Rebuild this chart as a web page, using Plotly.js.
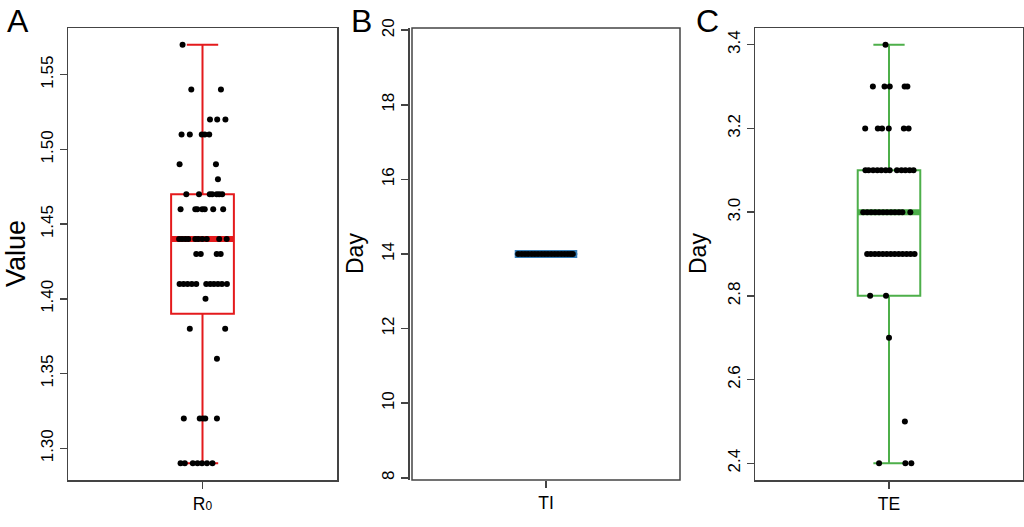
<!DOCTYPE html>
<html>
<head>
<meta charset="utf-8">
<script src="https://cdn.plot.ly/plotly-3.0.1.min.js"></script>
<style>html,body{margin:0;padding:0;background:#fff;}#chart{width:1024px;height:527px;}</style>
</head>
<body>
<div id="chart"></div>
<script>
// ---------- data ----------
const panelLetters = ["A", "B", "C"];
const categories = ["R<span style=\"font-size:12px\">0</span>", "TI", "TE"];
const yTitles = ["Value", "Day", "Day"];

// R0 box statistics
const r0Stats = {q1: 1.39, median: 1.44, q3: 1.47, lower: 1.29, upper: 1.57};
const r0Values = [
  1.57,
  1.54, 1.54,
  1.52, 1.52, 1.52,
  1.51, 1.51, 1.51, 1.51, 1.51,
  1.49, 1.49,
  1.48,
  1.47, 1.47, 1.47, 1.47, 1.47, 1.47, 1.47,
  1.46, 1.46, 1.46, 1.46, 1.46, 1.46, 1.46,
  1.44, 1.44, 1.44, 1.44, 1.44, 1.44, 1.44, 1.44, 1.44, 1.44,
  1.43, 1.43, 1.43, 1.43,
  1.41, 1.41, 1.41, 1.41, 1.41, 1.41, 1.41, 1.41, 1.41, 1.41, 1.41,
  1.40,
  1.38, 1.38,
  1.36,
  1.32, 1.32, 1.32, 1.32, 1.32,
  1.29, 1.29, 1.29, 1.29, 1.29, 1.29, 1.29
];
const r0Jitter = [
  0.920,
  0.955, 1.074,
  1.030, 1.059, 1.092,
  0.916, 0.949, 0.997, 1.009, 1.027,
  0.908, 1.054,
  1.062,
  0.935, 0.986, 1.029, 1.039, 1.057, 1.067, 1.079,
  0.912, 0.971, 0.979, 0.999, 1.009, 1.043, 1.083,
  0.906, 0.918, 0.931, 0.943, 0.971, 0.983, 0.999, 1.017, 1.067, 1.097,
  0.975, 0.993, 1.057, 1.073,
  0.908, 0.924, 0.940, 0.957, 0.975, 1.015, 1.031, 1.046, 1.062, 1.078, 1.098,
  1.012,
  0.949, 1.091,
  1.058,
  0.925, 0.989, 1.001, 1.011, 1.058,
  0.912, 0.929, 0.961, 0.980, 0.998, 1.018, 1.040
];

// TI (all values equal)
const tiStats = {q1: 14, median: 14, q3: 14, lower: 14, upper: 14};
const tiValues = [14, 14, 14, 14, 14, 14, 14, 14, 14, 14, 14, 14, 14, 14, 14, 14, 14, 14];
const tiJitter = [0.888, 0.902, 0.915, 0.928, 0.942, 0.955, 0.968, 0.982, 0.995,
                  1.008, 1.022, 1.035, 1.048, 1.062, 1.075, 1.088, 1.100, 1.108];

// TE
const teStats = {q1: 2.8, median: 3.0, q3: 3.1, lower: 2.4, upper: 3.4};
const teValues = [
  3.4,
  3.3, 3.3, 3.3, 3.3, 3.3,
  3.2, 3.2, 3.2, 3.2, 3.2, 3.2,
  3.1, 3.1, 3.1, 3.1, 3.1, 3.1, 3.1, 3.1, 3.1, 3.1, 3.1, 3.1,
  3.0, 3.0, 3.0, 3.0, 3.0, 3.0, 3.0, 3.0, 3.0, 3.0, 3.0, 3.0,
  2.9, 2.9, 2.9, 2.9, 2.9, 2.9, 2.9, 2.9, 2.9, 2.9, 2.9, 2.9, 2.9,
  2.8, 2.8,
  2.7,
  2.5,
  2.4, 2.4, 2.4
];
const teJitter = [
  0.986,
  0.935, 0.982, 1.003, 1.063, 1.074,
  0.904, 0.955, 0.972, 0.999, 1.060, 1.079,
  0.905, 0.918, 0.936, 0.953, 0.969, 0.987, 1.003, 1.032, 1.050, 1.066, 1.083, 1.099,
  0.896, 0.912, 0.928, 0.944, 0.960, 0.976, 0.992, 1.008, 1.024, 1.040, 1.054, 1.086,
  0.912, 0.927, 0.943, 0.959, 0.975, 0.991, 1.007, 1.023, 1.039, 1.055, 1.071, 1.087, 1.103,
  0.924, 0.988,
  1.000,
  1.064,
  0.960, 1.066, 1.090
];

// tick values
const r0Ticks = [1.30, 1.35, 1.40, 1.45, 1.50, 1.55];
const tiTicks = [8, 10, 12, 14, 16, 18, 20];
const teTicks = [2.4, 2.6, 2.8, 3.0, 3.2, 3.4];

// ---------- styling / layout ----------
const W = 1024, H = 527;
const colors = ["#E41A1C", "#377EB8", "#4DAF4A"];
const boxWidth = 0.252;
const boxPos = 1;
const pxX = [[68, 337], [412, 680], [755, 1023]];
const pxTop = 28, pxBottom = 480;
const yRanges = [[1.2788, 1.5812], [7.94, 20.06], [2.36, 3.44]];
const yFormats = [".2f", "d", ".1f"];
const allStats = [r0Stats, tiStats, teStats];
const allValues = [r0Values, tiValues, teValues];
const allJitter = [r0Jitter, tiJitter, teJitter];
const allTicks = [r0Ticks, tiTicks, teTicks];
const medWidths = [6, 8, 6];
const titleSizes = [27, 23, 23];
const titleX = [16, 355, 698];
const letterX = [5, 349, 694];
const font = "Liberation Sans, Arial, sans-serif";
const axisColor = "#444";

const traces = [];
const layout = {
  width: W, height: H,
  margin: {l: 0, r: 0, t: 0, b: 0},
  paper_bgcolor: "#fff", plot_bgcolor: "#fff",
  showlegend: false,
  font: {family: font, color: "#000", size: 17},
  annotations: [],
  shapes: []
};

for (let i = 0; i < 3; i++) {
  const xa = i === 0 ? "x" : "x" + (i + 1);
  const ya = i === 0 ? "y" : "y" + (i + 1);
  const st = allStats[i];
  traces.push({
    type: "box", xaxis: xa, yaxis: ya,
    x: [boxPos], q1: [st.q1], median: [st.median], q3: [st.q3],
    lowerfence: [st.lower], upperfence: [st.upper],
    width: boxWidth, whiskerwidth: 0.5, boxpoints: false,
    line: {color: colors[i], width: 2}, fillcolor: "rgba(255,255,255,0)",
    hoverinfo: "skip"
  });
  traces.push({
    type: "scatter", mode: "lines", xaxis: xa, yaxis: ya,
    x: [boxPos - boxWidth / 2, boxPos + boxWidth / 2], y: [st.median, st.median],
    line: {color: colors[i], width: medWidths[i]}, hoverinfo: "skip"
  });
  traces.push({
    type: "scatter", mode: "markers", xaxis: xa, yaxis: ya,
    x: allJitter[i], y: allValues[i],
    marker: {color: "#000", size: 6, line: {width: 0}}, hoverinfo: "skip"
  });

  const xKey = i === 0 ? "xaxis" : "xaxis" + (i + 1);
  const yKey = i === 0 ? "yaxis" : "yaxis" + (i + 1);
  const xax = {
    domain: [pxX[i][0] / W, pxX[i][1] / W], anchor: ya,
    range: [0.46, 1.54], tickvals: [boxPos], ticktext: [categories[i]],
    ticks: "outside", ticklen: 7, tickwidth: 1.5, tickcolor: axisColor,
    showline: true, mirror: true, linecolor: axisColor, linewidth: 1.5,
    showgrid: false, zeroline: false, fixedrange: true,
    tickfont: {family: font, size: 17.5, color: "#000"}
  };
  const yax = {
    domain: [1 - pxBottom / H, 1 - pxTop / H], anchor: xa,
    range: yRanges[i], tickvals: allTicks[i], tickformat: yFormats[i],
    tickangle: -90,
    ticks: "outside", ticklen: 7, tickwidth: 1.5, tickcolor: axisColor,
    showline: true, mirror: true, linecolor: axisColor, linewidth: 1.5,
    showgrid: false, zeroline: false, fixedrange: true,
    tickfont: {family: font, size: 17, color: "#000"}
  };
  if (i === 1) {
    // panel B: axis line drawn slightly left of the frame; frame as a shape
    yax.anchor = "free";
    yax.position = 408 / W;
    yax.mirror = false;
    xax.showline = false;
    xax.mirror = false;
    layout.shapes.push({
      type: "rect", xref: "x2 domain", yref: "y2 domain", x0: 0, x1: 1, y0: 0, y1: 1,
      line: {color: axisColor, width: 1.5}, fillcolor: "rgba(0,0,0,0)", layer: "below"
    });
  }
  layout[xKey] = xax;
  layout[yKey] = yax;
  layout.annotations.push({
    xref: "paper", yref: "paper", x: titleX[i] / W, y: 1 - ((pxTop + pxBottom) / 2) / H,
    xanchor: "center", yanchor: "middle", textangle: -90, showarrow: false,
    text: yTitles[i], font: {family: font, size: titleSizes[i], color: "#000"}
  });
  layout.annotations.push({
    xref: "paper", yref: "paper", x: letterX[i] / W, y: 1 - 1 / H,
    xanchor: "left", yanchor: "top", showarrow: false,
    text: panelLetters[i], font: {family: font, size: 32, color: "#000"}
  });
}

Plotly.newPlot("chart", traces, layout, {staticPlot: true, displayModeBar: false});
</script>
</body>
</html>
